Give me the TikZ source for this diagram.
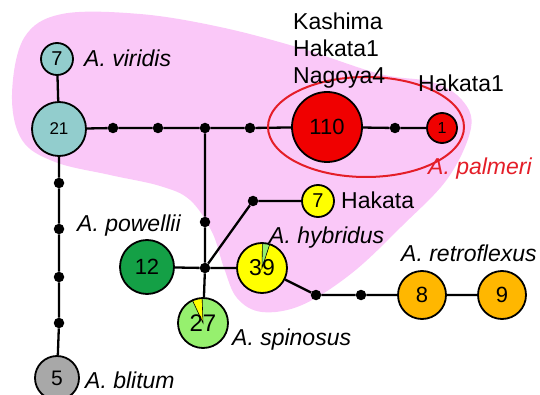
\documentclass[tikz,border=0pt]{standalone}
\usepackage{fontspec}
\setmainfont{Liberation Sans}
\definecolor{pinkbg}{RGB}{250,200,248}
\definecolor{tealc}{RGB}{146,205,205}
\definecolor{redc}{RGB}{240,0,0}
\definecolor{yelc}{RGB}{255,255,0}
\definecolor{dkgreen}{RGB}{20,160,70}
\definecolor{ltgreen}{RGB}{150,240,110}
\definecolor{orangec}{RGB}{255,183,0}
\definecolor{grayc}{RGB}{168,168,168}
\definecolor{ellred}{RGB}{228,30,40}
\begin{document}
\begin{tikzpicture}[x=1pt,y=-1pt,
  hap/.style={circle,draw=black,line width=1.8pt,inner sep=0pt},
  mv/.style={circle,fill=black,inner sep=0pt,minimum size=10.5pt},
  edge/.style={line width=2.3pt},
  lab/.style={anchor=base west,inner sep=0pt,font=\fontsize{23}{27}\selectfont\itshape},
  loc/.style={anchor=base west,inner sep=0pt,font=\fontsize{23}{27}\selectfont},
  fs/.style={font=\fontsize{#1}{#1}\selectfont}]
\useasboundingbox (0,0) rectangle (540,395);
% pink region
\fill[pinkbg] plot[smooth cycle, tension=0.6] coordinates {
  (12,95) (24,38) (62,14) (140,14) (220,27) (300,48) (380,74) (432,82)
  (462,100) (471,128) (448,178) (402,226) (352,273) (302,305) (262,312)
  (237,298) (224,268) (212,232) (190,200) (160,186) (110,175) (55,162) (22,140)};
% haplotype nodes
\node[hap,fill=tealc,minimum size=32pt,fs=20] (v7) at (57,59) {7};
\node[hap,fill=tealc,minimum size=54pt,fs=17] (n21) at (59,129) {21};
\node[hap,fill=redc,minimum size=70pt,fs=22] (n110) at (327,127) {110};
\node[hap,fill=redc,minimum size=30pt,fs=16] (n1) at (442,128) {1};
\node[hap,fill=dkgreen,minimum size=54pt,fs=22] (n12) at (147,267) {12};
\node[hap,fill=ltgreen,minimum size=50pt,fs=24,
  path picture={\fill[yelc,draw=black,line width=0.6pt] (path picture bounding box.center) -- +(92:27pt) arc[start angle=92,end angle=115,radius=27pt] -- cycle;}] (n27) at (203,323) {27};
\node[hap,fill=yelc,minimum size=50pt,fs=23,
  path picture={\fill[ltgreen,draw=black,line width=0.6pt] (path picture bounding box.center) -- +(72:27pt) arc[start angle=72,end angle=89,radius=27pt] -- cycle;}] (n39) at (262,268) {39};
\node[hap,fill=yelc,minimum size=32pt,fs=20] (n7h) at (318,201) {7};
\node[hap,fill=orangec,minimum size=48pt,fs=22] (n8) at (422,295) {8};
\node[hap,fill=orangec,minimum size=48pt,fs=22] (n9) at (502,295) {9};
\node[hap,fill=grayc,minimum size=44pt,fs=21] (n5) at (57,378) {5};
% median vectors
\node[mv] (d1) at (113,128) {};
\node[mv] (d2) at (158,128) {};
\node[mv] (d3) at (205,128) {};
\node[mv] (d4) at (250,128) {};
\node[mv] (d5) at (395,128) {};
\node[mv] (d6) at (205,222) {};
\node[mv] (J) at (205,268) {};
\node[mv] (d7) at (253,201) {};
\node[mv] (d8) at (316,295) {};
\node[mv] (d9) at (361,295) {};
\node[mv] (d10) at (59,183) {};
\node[mv] (d11) at (59,229) {};
\node[mv] (d12) at (59,277) {};
\node[mv] (d13) at (59,323) {};
% connectors
\draw[edge] (v7) -- (n21);
\draw[edge] (n21) -- (d1) -- (d2) -- (d3) -- (d4) -- (n110);
\draw[edge] (n110) -- (d5) -- (n1);
\draw[edge] (d3) -- (d6) -- (J) -- (n27);
\draw[edge] (n12) -- (J) -- (n39);
\draw[edge] (J) -- (d7) -- (n7h);
\draw[edge] (n39) -- (d8) -- (d9) -- (n8) -- (n9);
\draw[edge] (n21) -- (d10) -- (d11) -- (d12) -- (d13) -- (n5);
% A. palmeri ellipse
\draw[ellred,line width=2pt] (366,127) ellipse [x radius=98, y radius=50];
% labels
\node[lab] (lvir) at (84,67) {A. viridis};
\node[loc] (lk1) at (293,30) {Kashima};
\node[loc] (lk2) at (293,57) {Hakata1};
\node[loc] (lk3) at (293,84) {Nagoya4};
\node[loc] (lh1) at (418,92) {Hakata1};
\node[lab,text=ellred] (lpal) at (428,175) {A. palmeri};
\node[loc] (lhak) at (341,208) {Hakata};
\node[lab] (lhyb) at (269,243) {A. hybridus};
\node[lab] (lret) at (401,261) {A. retroflexus};
\node[lab] (lpow) at (77,232) {A. powellii};
\node[lab] (lspi) at (232,345) {A. spinosus};
\node[lab] (lbli) at (85,388) {A. blitum};
\end{tikzpicture}
\end{document}
